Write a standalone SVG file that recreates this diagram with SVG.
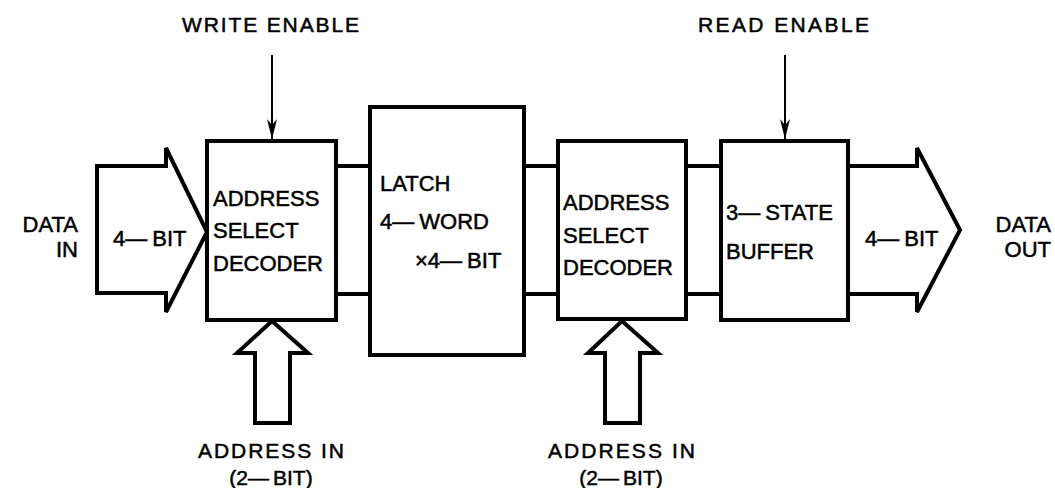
<svg xmlns="http://www.w3.org/2000/svg" width="1055" height="488" viewBox="0 0 1055 488">
<defs>
<style>
.box{fill:#fff;stroke:#000;stroke-width:4}
.thick{fill:none;stroke:#000;stroke-width:4;stroke-linejoin:miter}
.hollow{fill:#fff;stroke:#000;stroke-width:4;stroke-linejoin:miter}
.thin{fill:none;stroke:#000;stroke-width:2}
text{font-family:"Liberation Sans",Arial,sans-serif;font-size:22px;fill:#000;stroke:#000;stroke-width:0.5}
.lbl{font-size:21px}
</style>
<marker id="ah" viewBox="0 0 20 10" refX="20" refY="5" markerWidth="20" markerHeight="10" markerUnits="userSpaceOnUse" orient="auto">
<path d="M0,0 L20,5 L0,10 L6,5 Z" fill="#000"/>
</marker>
</defs>
<rect width="1055" height="488" fill="#fff"/>

<g id="connectors">
<line class="thick" x1="336" y1="166" x2="370" y2="166"/>
<line class="thick" x1="336" y1="294" x2="370" y2="294"/>
<line class="thick" x1="524" y1="166" x2="558" y2="166"/>
<line class="thick" x1="524" y1="294" x2="558" y2="294"/>
<line class="thick" x1="686" y1="166" x2="721" y2="166"/>
<line class="thick" x1="686" y1="294" x2="721" y2="294"/>
<path class="thin" d="M272,55 V139" marker-end="url(#ah)"/>
<path class="thin" d="M785,55 V139" marker-end="url(#ah)"/>
</g>

<g id="data-in">
<polygon class="hollow" points="97,166 166,166 166,148 207,232 166,312 166,293 97,293"/>
<text x="113" y="246">4—<tspan dx="5">BIT</tspan></text>
<text x="78" y="232" text-anchor="end">DATA</text>
<text x="78" y="257" text-anchor="end">IN</text>
</g>

<g id="data-out">
<path class="thick" d="M848,166 H917 V148 L960,230 L917,312 V294 H848"/>
<text x="865" y="246">4—<tspan dx="5">BIT</tspan></text>
<text x="1051" y="232" text-anchor="end">DATA</text>
<text x="1051" y="257" text-anchor="end">OUT</text>
</g>

<g id="write-decoder">
<rect class="box" x="207" y="141" width="129" height="179"/>
<text x="213" y="206">ADDRESS</text>
<text x="213" y="238">SELECT</text>
<text x="213" y="271">DECODER</text>
</g>

<g id="latch">
<rect class="box" x="370" y="107" width="154" height="248"/>
<text x="380" y="191">LATCH</text>
<text x="380" y="229">4—<tspan dx="5">WORD</tspan></text>
<text x="415" y="268">×4—<tspan dx="5">BIT</tspan></text>
</g>

<g id="read-decoder">
<rect class="box" x="558" y="141" width="128" height="178"/>
<text x="563" y="210">ADDRESS</text>
<text x="563" y="243">SELECT</text>
<text x="563" y="275">DECODER</text>
</g>

<g id="buffer">
<rect class="box" x="721" y="141" width="127" height="179"/>
<text x="726" y="220">3—<tspan dx="5">STATE</tspan></text>
<text x="726" y="259">BUFFER</text>
</g>

<g id="write-enable">
<text class="lbl" x="182" y="32" textLength="177" lengthAdjust="spacing">WRITE  ENABLE</text>
</g>

<g id="read-enable">
<text class="lbl" x="698" y="32" textLength="171" lengthAdjust="spacing">READ  ENABLE</text>
</g>

<g id="address-in-1">
<polygon class="hollow" points="272,321 308,353 290,353 290,423 255,423 255,353 237,353"/>
<text class="lbl" x="198" y="458" textLength="146" lengthAdjust="spacing">ADDRESS  IN</text>
<text class="lbl" x="271" y="485" text-anchor="middle">(2—<tspan dx="4">BIT)</tspan></text>
</g>

<g id="address-in-2">
<polygon class="hollow" points="622,321 658,353 640,353 640,423 605,423 605,353 588,353"/>
<text class="lbl" x="548" y="458" textLength="147" lengthAdjust="spacing">ADDRESS  IN</text>
<text class="lbl" x="621" y="485" text-anchor="middle">(2—<tspan dx="4">BIT)</tspan></text>
</g>
</svg>
